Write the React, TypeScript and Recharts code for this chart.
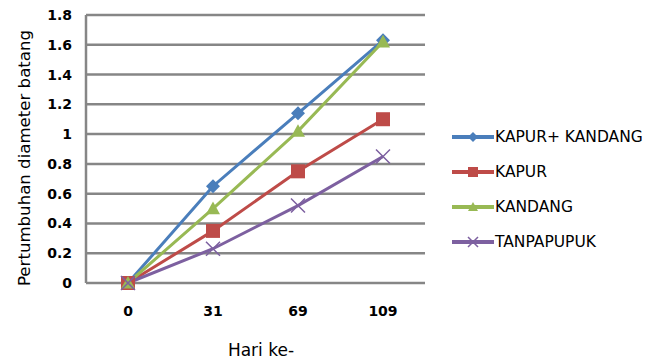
import { LineChart, Line, XAxis, YAxis, CartesianGrid, Label } from "recharts"

// growth of stem diameter per observation day
const days = ["0", "31", "69", "109"]
const kapurKandang = [0, 0.65, 1.14, 1.63]
const kapur = [0, 0.35, 0.75, 1.1]
const kandang = [0, 0.5, 1.02, 1.62]
const tanpaPupuk = [0, 0.23, 0.52, 0.85]
const yTicks = [0, 0.2, 0.4, 0.6, 0.8, 1, 1.2, 1.4, 1.6, 1.8]

type Shape = "diamond" | "square" | "triangle" | "cross"

const series: { key: string; name: string; color: string; shape: Shape; values: number[] }[] = [
  { key: "kk", name: "KAPUR+ KANDANG", color: "#4a7ebb", shape: "diamond", values: kapurKandang },
  { key: "kp", name: "KAPUR", color: "#be4b48", shape: "square", values: kapur },
  { key: "kd", name: "KANDANG", color: "#98b954", shape: "triangle", values: kandang },
  { key: "tp", name: "TANPAPUPUK", color: "#7d60a0", shape: "cross", values: tanpaPupuk },
]

const data = days.map((day, i) => {
  const row: Record<string, string | number> = { day }
  series.forEach((s) => (row[s.key] = s.values[i]))
  return row
})

const FONT = "'DejaVu Sans', Verdana, sans-serif"
const GRID = "#868686"
const TICK = { fontFamily: FONT, fontSize: 14, fontWeight: "bold", fill: "#000" }

function Marker({ shape, cx, cy, color, s }: { shape: Shape; cx: number; cy: number; color: string; s: number }) {
  if (shape === "diamond")
    return <path d={`M${cx},${cy - s} L${cx + s},${cy} L${cx},${cy + s} L${cx - s},${cy} Z`} fill={color} />
  if (shape === "square")
    return <rect x={cx - s} y={cy - s} width={s * 2} height={s * 2} fill={color} />
  if (shape === "triangle")
    return <path d={`M${cx},${cy - s} L${cx + s},${cy + s * 0.8} L${cx - s},${cy + s * 0.8} Z`} fill={color} />
  return (
    <path
      d={`M${cx - s},${cy - s} L${cx + s},${cy + s} M${cx + s},${cy - s} L${cx - s},${cy + s}`}
      stroke={color}
      strokeWidth={1.5}
      fill="none"
    />
  )
}

// legend sits to the right of the plot, one row per series
function SeriesLegend() {
  return (
    <div style={{ position: "absolute", left: 452, top: 119, width: 208, fontFamily: FONT, fontSize: 15.5, color: "#000" }}>
      {series.map((s) => (
        <div key={s.key} style={{ display: "flex", alignItems: "center", height: 35 }}>
          <svg width={42} height={16} style={{ marginRight: 1 }}>
            <line x1={0} y1={8} x2={42} y2={8} stroke={s.color} strokeWidth={4} />
            <Marker shape={s.shape} cx={21} cy={8} color={s.color} s={5} />
          </svg>
          <span>{s.name}</span>
        </div>
      ))}
    </div>
  )
}

export default function App() {
  return (
    <div style={{ position: "relative", width: 660, height: 362, background: "#fff" }}>
      <style>{"body{margin:0}"}</style>
      <LineChart width={660} height={362} data={data} margin={{ top: 15, right: 235, bottom: 49, left: 0 }}>
        <CartesianGrid vertical={false} stroke={GRID} strokeWidth={2.5} />
        <XAxis
          dataKey="day"
          height={30}
          axisLine={false}
          tickLine={false}
          tickSize={0}
          tickMargin={23}
          padding={{ left: 42, right: 42 }}
          tick={TICK}
        >
          <Label
            content={() => (
              <text x={261} y={350} textAnchor="middle" dominantBaseline="central" fontFamily={FONT} fontSize={17} fill="#000">
                Hari ke-
              </text>
            )}
          />
        </XAxis>
        <YAxis
          width={86}
          domain={[0, 1.8]}
          ticks={yTicks}
          interval={0}
          axisLine={{ stroke: GRID, strokeWidth: 2.5 }}
          tickLine={false}
          tickSize={0}
          tickMargin={14}
          tick={TICK}
        >
          <Label
            content={() => (
              <text
                x={24}
                y={158}
                transform="rotate(-90, 24, 158)"
                textAnchor="middle"
                dominantBaseline="central"
                fontFamily={FONT}
                fontSize={16.6}
                fill="#000"
              >
                Pertumbuhan diameter batang
              </text>
            )}
          />
        </YAxis>
        {series.map((s) => (
          <Line
            key={s.key}
            dataKey={s.key}
            name={s.name}
            stroke={s.color}
            strokeWidth={3}
            isAnimationActive={false}
            dot={(p: any) => (
              <Marker key={`${s.key}-${p.index}`} shape={s.shape} cx={p.cx} cy={p.cy} color={s.color} s={7} />
            )}
            activeDot={false}
          />
        ))}
      </LineChart>
      <SeriesLegend />
    </div>
  )
}
